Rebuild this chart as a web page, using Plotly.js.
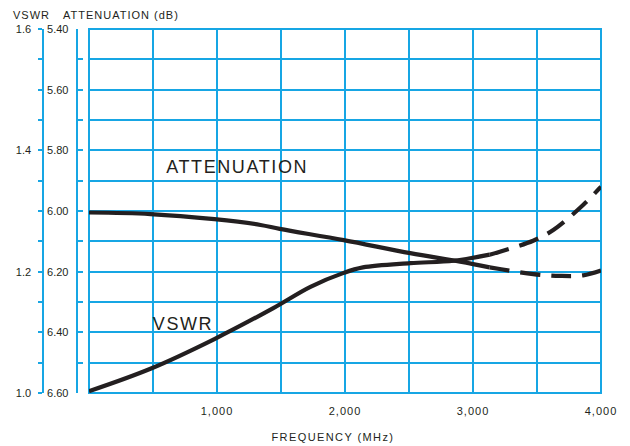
<!DOCTYPE html>
<html><head><meta charset="utf-8">
<script src="https://cdn.plot.ly/plotly-3.0.1.min.js"></script>
<style>
html,body{margin:0;padding:0;background:#fff;}
#chart{width:630px;height:446px;}
#chart .xtick text{letter-spacing:1px;}
#chart .annotation[data-index="0"] text,
#chart .annotation[data-index="1"] text{letter-spacing:1px;}
#chart .annotation[data-index="2"] text{letter-spacing:1.4px;}
#chart .annotation[data-index="3"] text,
#chart .annotation[data-index="4"] text{letter-spacing:1.6px;}
</style>
</head><body>
<div id="chart"></div>
<script>
// ---- data ----
const attFreq      = [0, 480, 980, 1340, 1490, 1990, 2510, 2900, 3130];
const attValues    = [6.005, 6.010, 6.027, 6.046, 6.059, 6.096, 6.139, 6.167, 6.186];
const attDashFreq  = [3130, 3220, 3470, 3680, 3860, 4000];
const attDashVals  = [6.186, 6.192, 6.208, 6.214, 6.212, 6.196];

const vswrFreq     = [0, 480, 980, 1440, 1730, 1990, 2140, 2510, 2850, 3130];
const vswrValues   = [1.003, 1.040, 1.089, 1.140, 1.175, 1.198, 1.207, 1.214, 1.218, 1.228];
const vswrDashFreq = [3130, 3210, 3470, 3630, 3860, 4000];
const vswrDashVals = [1.228, 1.233, 1.251, 1.269, 1.310, 1.340];

const freqTickVals = [0, 500, 1000, 1500, 2000, 2500, 3000, 3500, 4000];
const freqTickText = ['', '', '1,000', '', '2,000', '', '3,000', '', '4,000'];
const attTickVals  = [5.4, 5.5, 5.6, 5.7, 5.8, 5.9, 6.0, 6.1, 6.2, 6.3, 6.4, 6.5, 6.6];
const attTickText  = ['5.40', '', '5.60', '', '5.80', '', '6.00', '', '6.20', '', '6.40', '', '6.60'];
const vswrTickVals = [1.0, 1.05, 1.1, 1.15, 1.2, 1.25, 1.3, 1.35, 1.4, 1.45, 1.5, 1.55, 1.6];
const vswrTickText = ['1.0', '', '', '', '1.2', '', '', '', '1.4', '', '', '', '1.6'];

// ---- styling ----
const BLUE = '#17a6e4';
const INK = '#231f20';
const FONT = '"Liberation Sans", Arial, Helvetica, sans-serif';
const LW = 4.2;
const DASH = '20px,11px';

const traces = [
  {x: attFreq, y: attValues, yaxis: 'y', mode: 'lines', line: {color: INK, width: LW, shape: 'spline'}},
  {x: attDashFreq, y: attDashVals, yaxis: 'y', mode: 'lines', line: {color: INK, width: LW, shape: 'spline', dash: DASH}},
  {x: vswrFreq, y: vswrValues, yaxis: 'y2', mode: 'lines', line: {color: INK, width: LW, shape: 'spline'}},
  {x: vswrDashFreq, y: vswrDashVals, yaxis: 'y2', mode: 'lines', line: {color: INK, width: LW, shape: 'spline', dash: DASH}}
];

const mL = 5, mR = 29, W = 630;
const pw = W - mL - mR;
const px = v => (v - mL) / pw;

const layout = {
  width: 630, height: 446,
  margin: {l: mL, r: mR, t: 29, b: 53, pad: 0},
  paper_bgcolor: '#fff', plot_bgcolor: '#fff',
  showlegend: false,
  font: {family: FONT, size: 11, color: INK},
  xaxis: {
    domain: [px(89), 1],
    range: [0, 4000],
    tickmode: 'array', tickvals: freqTickVals, ticktext: freqTickText,
    showgrid: true, gridcolor: BLUE, gridwidth: 2,
    zeroline: false, showline: false, ticks: '',
    ticklabelstandoff: 10,
    tickfont: {family: FONT, size: 11, color: INK}
  },
  yaxis: {
    range: [6.60, 5.40],
    anchor: 'free', position: px(76.7),
    tickmode: 'array', tickvals: attTickVals, ticktext: attTickText,
    showgrid: true, gridcolor: BLUE, gridwidth: 2,
    zeroline: false,
    showline: true, linecolor: BLUE, linewidth: 2,
    ticks: 'inside', ticklen: 5, tickwidth: 2, tickcolor: BLUE,
    ticklabelstandoff: 5,
    tickfont: {family: FONT, size: 11, color: INK}
  },
  yaxis2: {
    range: [1.0, 1.6],
    overlaying: 'y',
    anchor: 'free', position: px(43.3), side: 'left',
    tickmode: 'array', tickvals: vswrTickVals, ticktext: vswrTickText,
    showgrid: false, zeroline: false,
    showline: true, linecolor: BLUE, linewidth: 2,
    ticks: 'outside', ticklen: 4, tickwidth: 2, tickcolor: BLUE,
    ticklabelstandoff: 5,
    tickfont: {family: FONT, size: 11, color: INK}
  },
  shapes: [
    {type: 'rect', xref: 'x domain', yref: 'y domain', x0: 0, x1: 1, y0: 0, y1: 1,
     line: {color: BLUE, width: 2}, fillcolor: 'rgba(0,0,0,0)', layer: 'below'}
  ],
  annotations: [
    {text: 'VSWR', xref: 'paper', yref: 'paper', x: px(31.5), y: (393 - 15) / 364,
     xanchor: 'center', yanchor: 'middle', showarrow: false, font: {family: FONT, size: 11, color: INK}},
    {text: 'ATTENUATION (dB)', xref: 'paper', yref: 'paper', x: px(121), y: (393 - 15) / 364,
     xanchor: 'center', yanchor: 'middle', showarrow: false, font: {family: FONT, size: 11, color: INK}},
    {text: 'FREQUENCY (MHz)', xref: 'paper', yref: 'paper', x: px(333), y: (393 - 437) / 364,
     xanchor: 'center', yanchor: 'middle', showarrow: false, font: {family: FONT, size: 11, color: INK}},
    {text: 'ATTENUATION', xref: 'paper', yref: 'paper', x: px(237), y: (393 - 167) / 364,
     xanchor: 'center', yanchor: 'middle', showarrow: false, font: {family: FONT, size: 18, color: INK}},
    {text: 'VSWR', xref: 'paper', yref: 'paper', x: px(183), y: (393 - 324) / 364,
     xanchor: 'center', yanchor: 'middle', showarrow: false, font: {family: FONT, size: 18, color: INK}}
  ]
};

Plotly.newPlot('chart', traces, layout, {staticPlot: true, displayModeBar: false});
</script>
</body></html>
